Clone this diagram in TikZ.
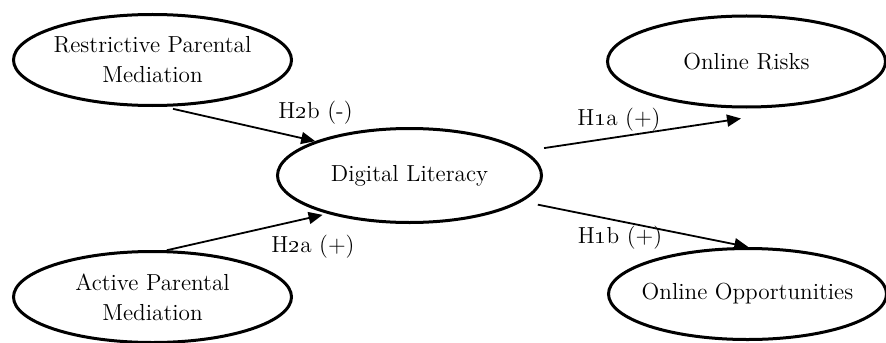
\documentclass[tikz,border=0pt]{standalone}
\usetikzlibrary{shapes.geometric,arrows.meta,calc}
\begin{document}
\begin{tikzpicture}[x=0.5pt,y=-0.5pt,
  txt/.style={font=\fontsize{11.6}{15}\selectfont},
  oval/.style={txt,ellipse,draw,line width=1.5pt,inner xsep=-30pt,inner ysep=0pt,
    align=center,minimum width=139pt,minimum height=45.5pt},
  midoval/.style={oval,minimum width=132pt,minimum height=47pt},
  arr/.style={draw,line width=0.9pt,-{Triangle[length=7pt,width=6pt]}},
  hyp/.style={txt,anchor=base,inner sep=0pt}]
\useasboundingbox (0,0) rectangle (886,342);
\node[oval] (rpm) at (152.5,60) {Restrictive Parental\\Mediation};
\node[oval] (apm) at (152.5,297) {Active Parental\\Mediation};
\node[midoval] (dl) at (409.5,175.5) {Digital Literacy};
\node[oval] (or) at (746.5,61.5) {Online Risks};
\node[oval] (oo) at (747.5,294) {Online Opportunities};
\coordinate (h1atip) at ($(or.south)+(-5.5,10)$);
\draw[arr,shorten <=4.5pt] (rpm.284) -- (dl.160.8);
\draw[arr,shorten >=2.5pt] (apm.73.5) -- (dl.205);
\draw[arr,shorten <=9.8pt] (dl.12.1) -- (h1atip);
\draw[arr,shorten <=8pt] (dl.347.9) -- (oo.89.4);
\node[hyp] (l2b) at (315.5,119) {H\oldstylenums{2}b (-)};
\node[hyp] (l2a) at (313,252) {H\oldstylenums{2}a (+)};
\node[hyp] (l1a) at (619,125) {H\oldstylenums{1}a (+)};
\node[hyp] (l1b) at (620,243) {H\oldstylenums{1}b (+)};
\end{tikzpicture}
\end{document}
